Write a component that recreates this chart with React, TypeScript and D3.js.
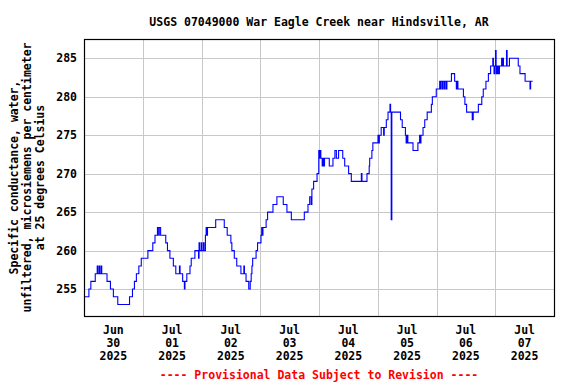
import { curveStepAfter, line, range, scaleLinear } from "d3";
import React from "react";

// 15-minute specific conductance, read off the chart as step change points
// [hours since Jun 30 2025 00:00, uS/cm]
const readings: [number, number][] = [
  [0, 254], [2.0, 255], [2.8, 256], [4.6, 257], [5.4, 258], [5.65, 257], [6.2, 258],
  [6.45, 257], [7.0, 258], [7.25, 257], [9.4, 256], [10.8, 255], [12.0, 254], [13.8, 253],
  [18.6, 254], [19.8, 255], [20.6, 256], [21.4, 257], [22.4, 258], [23.4, 259],
  [26.1, 260], [28.1, 261], [29.0, 262], [30.0, 263], [30.5, 262], [30.75, 263],
  [31.3, 262], [33.4, 261], [34.1, 260], [35.1, 259], [36.5, 258], [37.5, 257],
  [39.0, 258], [39.25, 257], [40.3, 256], [41.0, 255], [41.25, 256], [42.0, 257],
  [43.3, 258], [43.8, 259], [45.3, 260], [46.8, 259], [47.0, 261], [47.25, 260],
  [47.9, 261], [48.15, 260], [48.8, 261], [49.05, 260], [49.6, 262], [49.9, 263],
  [50.2, 262], [50.45, 263], [53.8, 264], [57.3, 263], [58.5, 262], [60.0, 261],
  [60.4, 260], [61.4, 259], [62.4, 258], [64.1, 257], [65.3, 258], [65.55, 257],
  [66.2, 256], [67.3, 255], [67.9, 256], [68.3, 257], [68.6, 258], [68.9, 259],
  [70.3, 260], [70.9, 261], [72.3, 262], [72.6, 263], [72.85, 262], [73.1, 263],
  [74.4, 264], [75.0, 265], [77.2, 266], [78.8, 267], [81.4, 266], [82.9, 265],
  [84.7, 264], [90.0, 265], [91.5, 266], [92.2, 267], [92.8, 266], [93.1, 268],
  [93.8, 269], [95.2, 270], [95.9, 273], [96.15, 272], [96.5, 273], [96.75, 272],
  [97.3, 271], [97.55, 272], [98.0, 271], [98.25, 272], [100.2, 271], [101.7, 272],
  [102.5, 273], [103.1, 272], [104.0, 273], [105.7, 272], [106.5, 271], [108.1, 270],
  [109.2, 269], [113.3, 270], [113.55, 269], [115.6, 270], [116.5, 271], [116.7, 272],
  [117.6, 273], [118.0, 274], [120.1, 275], [120.4, 274], [120.65, 275], [121.4, 276],
  [122.4, 275], [122.65, 276], [123.5, 277], [124.2, 278], [125.0, 279], [125.25, 278],
  [125.5, 264], [125.75, 278], [129.3, 277], [130.0, 276], [131.3, 275], [131.6, 274],
  [131.85, 275], [132.3, 274], [134.4, 273], [136.4, 274], [137.1, 275], [137.4, 274],
  [137.65, 275], [138.5, 276], [139.2, 277], [140.2, 278], [141.9, 279], [142.3, 280],
  [143.9, 281], [145.3, 282], [145.6, 281], [145.85, 282], [146.4, 281], [146.65, 282],
  [147.2, 281], [147.45, 282], [148.0, 281], [148.25, 282], [150.1, 283], [151.4, 282],
  [152.1, 281], [152.5, 282], [152.75, 281], [155.0, 280], [155.6, 279], [156.3, 278],
  [158.6, 277], [159.0, 278], [161.1, 279], [162.5, 280], [163.1, 281], [164.2, 282],
  [165.2, 283], [166.1, 284], [167.0, 285], [167.25, 284], [167.5, 283], [167.75, 284],
  [168.1, 286], [168.35, 283], [168.6, 284], [168.85, 283], [169.1, 284], [169.35, 283],
  [169.7, 284], [170.6, 285], [170.85, 284], [171.1, 285], [171.35, 284], [172.6, 286],
  [172.85, 284], [173.8, 285], [177.4, 284], [178.1, 283], [180.2, 282], [182.2, 281],
  [182.45, 282], [183.3, 282],
];

const yTicks = [255, 260, 265, 270, 275, 280, 285];
const dayLabels = [
  ["Jun", "30", "2025"],
  ["Jul", "01", "2025"],
  ["Jul", "02", "2025"],
  ["Jul", "03", "2025"],
  ["Jul", "04", "2025"],
  ["Jul", "05", "2025"],
  ["Jul", "06", "2025"],
  ["Jul", "07", "2025"],
];
const title = "USGS 07049000 War Eagle Creek near Hindsville, AR";
const yLabel = [
  "Specific conductance, water,",
  "unfiltered, microsiemens per centimeter",
  "at 25 degrees Celsius",
];
const footer = "---- Provisional Data Subject to Revision ----";

const width = 576;
const height = 384;
const margin = { top: 39, right: 22, bottom: 68, left: 84 };
const innerWidth = width - margin.left - margin.right;
const innerHeight = height - margin.top - margin.bottom;

const xScale = scaleLinear().domain([0, 192]).range([0, innerWidth]);
const yScale = scaleLinear().domain([251.5, 287.5]).range([innerHeight, 0]);
const trace = line<[number, number]>()
  .x((d) => xScale(d[0]))
  .y((d) => yScale(d[1]))
  .curve(curveStepAfter);

const font = "'DejaVu Sans Mono', monospace";

export default function App() {
  const dayLines = range(24, 192, 24);
  return (
    <svg
      width={width}
      height={height}
      viewBox={`0 0 ${width} ${height}`}
      style={{ position: "absolute", left: 0, top: 0, background: "white" }}
      fontFamily={font}
      fontWeight="bold"
      fontSize={11.5}
    >
      <text x={margin.left + innerWidth / 2} y={26} textAnchor="middle">
        {title}
      </text>
      <g transform={`translate(${margin.left}, ${margin.top})`}>
        {yTicks.map((t) => (
          <line
            key={"h" + t}
            x1={0}
            x2={innerWidth}
            y1={Math.round(yScale(t)) + 0.5}
            y2={Math.round(yScale(t)) + 0.5}
            stroke="#c8c8c8"
          />
        ))}
        {dayLines.map((h) => (
          <line
            key={"v" + h}
            x1={Math.round(xScale(h)) + 0.5}
            x2={Math.round(xScale(h)) + 0.5}
            y1={0}
            y2={innerHeight}
            stroke="#c8c8c8"
          />
        ))}
        <path d={trace(readings) ?? ""} fill="none" stroke="#0000ff" strokeWidth={1.1} />
        <rect
          x={0.5}
          y={0.5}
          width={innerWidth}
          height={innerHeight}
          fill="none"
          stroke="black"
          strokeWidth={1.2}
        />
        {yTicks.map((t) => (
          <text key={"yt" + t} x={-7} y={yScale(t) + 4} textAnchor="end">
            {t}
          </text>
        ))}
        {dayLabels.map((lines, i) => (
          <text key={"xt" + i} textAnchor="middle">
            {lines.map((s, j) => (
              <tspan key={j} x={xScale(i * 24 + 12)} y={innerHeight + 18 + j * 13}>
                {s}
              </tspan>
            ))}
          </text>
        ))}
      </g>
      <g transform={`translate(0, ${margin.top + innerHeight / 2}) rotate(-90)`}>
        {yLabel.map((s, j) => (
          <text key={j} x={0} y={18 + j * 13} textAnchor="middle">
            {s}
          </text>
        ))}
      </g>
      <text x={margin.left + innerWidth / 2} y={379} textAnchor="middle" fill="red">
        {footer}
      </text>
    </svg>
  );
}
